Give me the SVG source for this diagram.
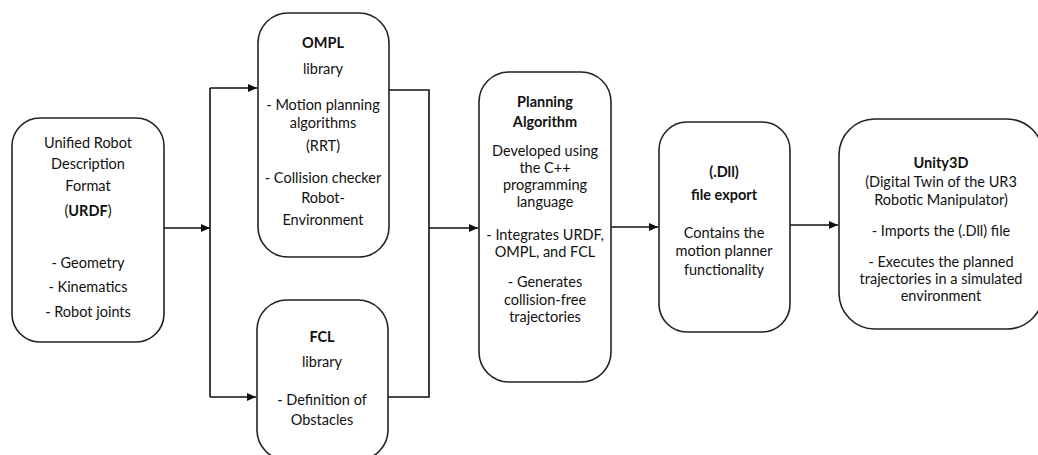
<svg xmlns="http://www.w3.org/2000/svg" width="1038" height="455" viewBox="0 0 1038 455">
<style>
.box{fill:#fff;stroke:#222;stroke-width:1.6}
.t{font-family:Lato,"Liberation Sans",sans-serif;font-size:14.5px;fill:#111;text-anchor:middle}
.b{font-weight:bold}
.c{fill:none;stroke:#111;stroke-width:1.6}
</style>
<defs>
<marker id="ah" markerWidth="10" markerHeight="10" refX="9" refY="5" orient="auto" markerUnits="userSpaceOnUse">
<path d="M0,1 L9,5 L0,9 Z" fill="#111"/>
</marker>
</defs>
<rect width="1038" height="455" fill="#fff"/>
<g id="connectors">
<path class="c" d="M164,228 H210" marker-end="url(#ah)"/>
<path class="c" d="M210,88 V397"/>
<path class="c" d="M210,88 H257" marker-end="url(#ah)"/>
<path class="c" d="M210,397 H256" marker-end="url(#ah)"/>
<path class="c" d="M389,90 H429 V397 H388"/>
<path class="c" d="M429,228 H478" marker-end="url(#ah)"/>
<path class="c" d="M611,227 H658" marker-end="url(#ah)"/>
<path class="c" d="M790,225 H838" marker-end="url(#ah)"/>
</g>
<g id="urdf">
<rect class="box" x="12" y="118" width="152" height="224" rx="28"/>
<text class="t" x="88" y="148">Unified Robot</text>
<text class="t" x="88" y="169">Description</text>
<text class="t" x="88" y="191">Format</text>
<text class="t" x="88" y="216">(<tspan class="b">URDF</tspan>)</text>
<text class="t" x="88" y="268">- Geometry</text>
<text class="t" x="88" y="292">- Kinematics</text>
<text class="t" x="88" y="317">- Robot joints</text>
</g>
<g id="ompl">
<rect class="box" x="258" y="13" width="131" height="244" rx="30"/>
<text class="t b" x="323" y="48">OMPL</text>
<text class="t" x="323" y="74">library</text>
<text class="t" x="323" y="110">- Motion planning</text>
<text class="t" x="323" y="128">algorithms</text>
<text class="t" x="323" y="151">(RRT)</text>
<text class="t" x="323" y="183">- Collision checker</text>
<text class="t" x="323" y="203">Robot-</text>
<text class="t" x="323" y="225">Environment</text>
</g>
<g id="fcl">
<rect class="box" x="257" y="300" width="131" height="160" rx="30"/>
<text class="t b" x="322" y="342">FCL</text>
<text class="t" x="322" y="367">library</text>
<text class="t" x="322" y="405">- Definition of</text>
<text class="t" x="322" y="425">Obstacles</text>
</g>
<g id="planning">
<rect class="box" x="479" y="72" width="132" height="310" rx="30"/>
<text class="t b" x="545" y="107">Planning</text>
<text class="t b" x="545" y="127">Algorithm</text>
<text class="t" x="545" y="156">Developed using</text>
<text class="t" x="545" y="173">the C++</text>
<text class="t" x="545" y="190">programming</text>
<text class="t" x="545" y="207">language</text>
<text class="t" x="545" y="240">- Integrates URDF,</text>
<text class="t" x="545" y="257">OMPL, and FCL</text>
<text class="t" x="545" y="287">- Generates</text>
<text class="t" x="545" y="305">collision-free</text>
<text class="t" x="545" y="322">trajectories</text>
</g>
<g id="dll">
<rect class="box" x="659" y="122" width="131" height="210" rx="28"/>
<text class="t b" x="724" y="177">(.Dll)</text>
<text class="t b" x="724" y="200">file export</text>
<text class="t" x="724" y="238">Contains the</text>
<text class="t" x="724" y="256">motion planner</text>
<text class="t" x="724" y="275">functionality</text>
</g>
<g id="unity">
<rect class="box" x="839" y="119" width="204" height="210" rx="36"/>
<text class="t b" x="941" y="168">Unity3D</text>
<text class="t" x="941" y="187">(Digital Twin of the UR3</text>
<text class="t" x="941" y="205">Robotic Manipulator)</text>
<text class="t" x="941" y="236">- Imports the (.Dll) file</text>
<text class="t" x="941" y="267">- Executes the planned</text>
<text class="t" x="941" y="284">trajectories in a simulated</text>
<text class="t" x="941" y="301">environment</text>
</g>
</svg>
